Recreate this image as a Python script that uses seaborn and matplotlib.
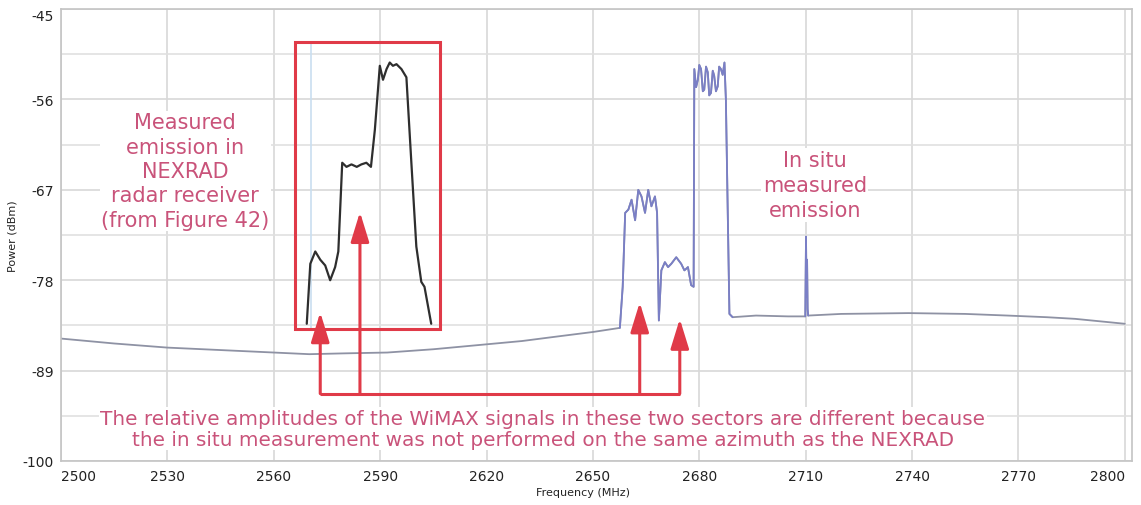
import numpy as np
import pandas as pd
import matplotlib
matplotlib.use("Agg")
import matplotlib.pyplot as plt
import seaborn as sns
from matplotlib.patches import Rectangle
from matplotlib.ticker import FixedLocator

# ---------------- data ----------------
x_ticks = [2500, 2530, 2560, 2590, 2620, 2650, 2680, 2710, 2740, 2770, 2800]
y_ticks = [-45, -56, -67, -78, -89, -100]
y_minor = [-50.5, -61.5, -72.5, -83.5, -94.5]

insitu_freq = [2500, 2515, 2530, 2545, 2560, 2570, 2580, 2592, 2605, 2620, 2630, 2639, 2650, 2657.6,
               2658.4, 2659.1, 2660.0, 2660.9, 2661.9, 2662.8, 2663.7, 2664.7, 2665.6, 2666.5, 2667.5,
               2668.1, 2668.6, 2669.3, 2670.3, 2671.2, 2672.1, 2673.5, 2674.9, 2675.8, 2676.8, 2677.7,
               2678.4, 2678.6, 2679.1, 2679.6, 2680.0, 2680.5, 2681.0, 2681.4, 2681.9, 2682.4, 2682.8,
               2683.3, 2683.8, 2684.2, 2684.7, 2685.2, 2685.6, 2686.1, 2686.6, 2687.1, 2687.5,
               2688.5, 2689.4, 2696, 2705, 2709.9, 2710.1, 2710.25, 2710.4, 2710.55, 2710.7,
               2720, 2739, 2755, 2767, 2778, 2786, 2793, 2800]
insitu_power = [-85.1, -85.7, -86.2, -86.5, -86.8, -87.0, -86.9, -86.8, -86.4, -85.8, -85.4, -84.9, -84.3, -83.8,
                -78.8, -69.8, -69.4, -68.2, -70.7, -67.0, -67.8, -69.8, -67.0, -69.0, -67.8,
                -69.8, -82.9, -76.8, -75.8, -76.4, -76.0, -75.2, -76.0, -76.8, -76.4, -78.6,
                -78.8, -52.3, -54.5, -53.6, -51.8, -52.3, -55.0, -54.8, -52.0, -52.7, -55.5,
                -55.2, -52.5, -53.1, -55.0, -54.4, -52.0, -52.3, -53.0, -51.5, -56.0,
                -82.1, -82.5, -82.3, -82.4, -82.4, -72.7, -80.0, -75.5, -81.5, -82.3,
                -82.1, -82.0, -82.1, -82.3, -82.5, -82.7, -83.0, -83.3]
wimax_bands = [(2657.6, 2689.4), (2709.9, 2710.7)]

nexrad_freq = [2569.3, 2570.3, 2571.7, 2573.1, 2574.5, 2575.9, 2577.3, 2578.2, 2579.3, 2580.5, 2581.9,
               2583.4, 2584.7, 2586.1, 2587.4, 2588.5, 2589.9, 2590.8, 2591.8, 2592.7, 2593.6, 2594.6,
               2596.0, 2597.4, 2598.8, 2600.2, 2601.6, 2602.5, 2604.4]
nexrad_power = [-83.3, -76.0, -74.5, -75.5, -76.2, -78.0, -76.4, -74.5, -63.7, -64.2, -63.9,
                -64.2, -63.9, -63.7, -64.2, -59.7, -51.9, -53.6, -52.3, -51.5, -51.9, -51.7,
                -52.3, -53.3, -63.7, -73.9, -78.2, -78.8, -83.3]

box_freq = (2565.9, 2606.8)
box_power = (-83.9, -49.0)
nexrad_axis_freq = 2570.6

arrow_freq = [2573.1, 2584.3, 2663.2, 2674.5]
arrow_tip = [-81.9, -69.7, -80.7, -82.7]
bracket_power = -91.8

label_measured = "Measured\nemission in\nNEXRAD\nradar receiver\n(from Figure 42)"
label_insitu = "In situ\nmeasured\nemission"
label_bottom = ("The relative amplitudes of the WiMAX signals in these two sectors are different because\n"
                "the in situ measurement was not performed on the same azimuth as the NEXRAD")

# ---------------- style ----------------
sns.set_style("white")
plt.rcParams['font.family'] = ['DejaVu Sans']

fig = plt.figure(figsize=(11.41, 5.06), dpi=100)
ax = fig.add_axes([0.0535, 0.087, 0.9385, 0.893])

red = "#e03a48"
txt_col = "#c9537a"

df_insitu = pd.DataFrame({"Frequency": insitu_freq, "Power": insitu_power})
sns.lineplot(data=df_insitu, x="Frequency", y="Power", ax=ax, color="#8e92a4",
             linewidth=1.3, estimator=None, sort=False)
for lo, hi in wimax_bands:
    seg = df_insitu[(df_insitu.Frequency >= lo) & (df_insitu.Frequency <= hi)]
    sns.lineplot(data=seg, x="Frequency", y="Power", ax=ax, color="#7a7fc6",
                 linewidth=1.3, estimator=None, sort=False)

df_nex = pd.DataFrame({"Frequency": nexrad_freq, "Power": nexrad_power})
sns.lineplot(data=df_nex, x="Frequency", y="Power", ax=ax, color="#2e2e2e",
             linewidth=1.6, estimator=None, sort=False, zorder=5)

# NEXRAD inset box
ax.plot([nexrad_axis_freq, nexrad_axis_freq], list(box_power), color="#c9def0", lw=1.2, zorder=3)
ax.add_patch(Rectangle((box_freq[0], box_power[0]), box_freq[1] - box_freq[0],
                       box_power[1] - box_power[0], fill=False, edgecolor=red, lw=2.2, zorder=6))

# arrows
ax.plot([arrow_freq[0], arrow_freq[-1]], [bracket_power, bracket_power], color=red, lw=2.2, zorder=6,
        solid_capstyle="butt")
for f, t in zip(arrow_freq, arrow_tip):
    ax.annotate("", xy=(f, t), xytext=(f, bracket_power),
                arrowprops=dict(arrowstyle="-|>,head_length=1.3,head_width=0.4", color=red,
                                lw=2.2, mutation_scale=14, shrinkA=0, shrinkB=0), zorder=7)

# annotations
side_font = dict(family=["DejaVu Sans"], fontsize=15, color=txt_col)
ax.text(2535.0, -64.7, label_measured, ha="center", va="center", multialignment="center",
        linespacing=1.27, bbox=dict(facecolor="white", edgecolor="none", pad=1), zorder=4, **side_font)
ax.text(2712.6, -66.4, label_insitu, ha="center", va="center", multialignment="center",
        linespacing=1.32, bbox=dict(facecolor="white", edgecolor="none", pad=1), zorder=4, **side_font)
ax.text(2635.9, -96.1, label_bottom, ha="center", va="center", multialignment="center",
        linespacing=1.15, bbox=dict(facecolor="white", edgecolor="none", pad=1), zorder=4,
        family=["DejaVu Sans"], fontsize=14.4, color=txt_col)

# axes
ax.set_xlim(2500, 2802)
ax.set_ylim(-100, -45)
ax.xaxis.set_major_locator(FixedLocator(x_ticks))
ax.yaxis.set_major_locator(FixedLocator(y_ticks))
ax.yaxis.set_minor_locator(FixedLocator(y_minor))
ax.set_xticklabels([str(v) for v in x_ticks])
ax.set_yticklabels([str(v) for v in y_ticks])
ax.tick_params(axis="both", which="both", length=0, labelsize=10, colors="#222222")
ax.tick_params(axis="x", pad=6)
ax.tick_params(axis="y", pad=5)
xl = ax.get_xticklabels()
xl[0].set_ha("left")
xl[-1].set_ha("right")
yl = ax.get_yticklabels()
yl[0].set_va("top")

ax.grid(True, which="major", color="#d8d8d8", lw=1.2)
ax.grid(True, which="minor", axis="y", color="#e0e0e0", lw=1.2)
ax.set_axisbelow(True)
for s in ax.spines.values():
    s.set_color("#c4c4c4")
    s.set_linewidth(1.2)

ax.set_xlabel("Frequency (MHz)", fontsize=8, color="#222222", labelpad=2)
ax.set_ylabel("Power (dBm)", fontsize=8, color="#222222", labelpad=4)
ax.xaxis.set_label_coords(0.487, -0.058)

fig.savefig("out.png", dpi=100, facecolor="white")
